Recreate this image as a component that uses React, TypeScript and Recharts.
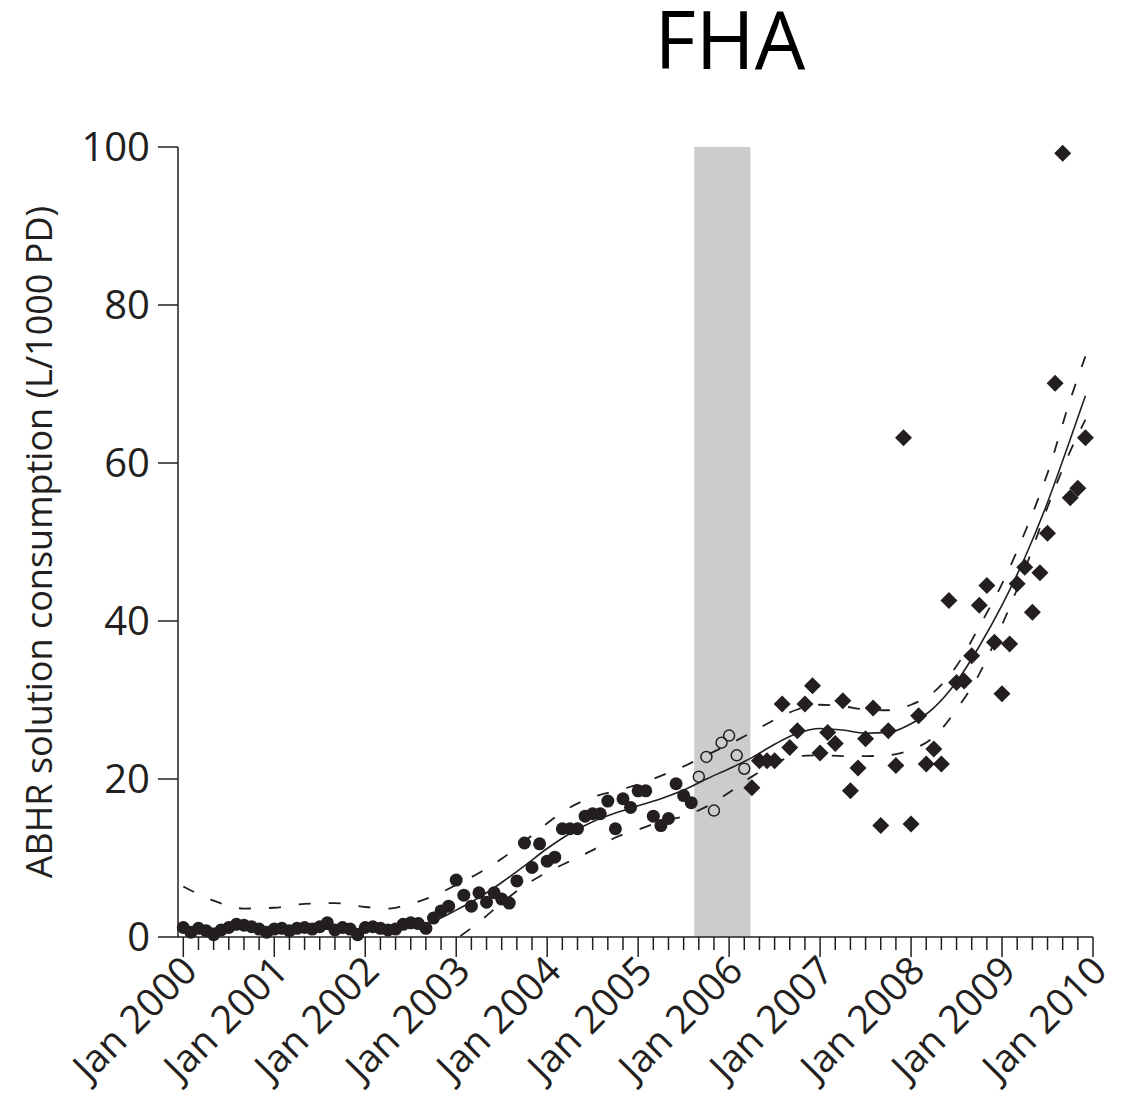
import React from 'react';
import { ComposedChart, Scatter, Line, XAxis, YAxis, ReferenceArea, Label } from 'recharts';

const FONT = '"Open Sans", sans-serif';
const INK = '#231f20';
const BAND = '#cbcccd';

// Monthly ABHR consumption (L/1000 PD); months counted from Jan 2000
const preStart = 0;
const preValues = [
  1.2, 0.6, 1.1, 0.8, 0.3, 0.9, 1.2, 1.6, 1.5, 1.3, 1.0, 0.6,
  1.0, 1.1, 0.8, 1.1, 1.2, 1.0, 1.3, 1.8, 0.9, 1.2, 1.0, 0.3,
  1.2, 1.3, 1.1, 0.9, 1.0, 1.6, 1.8, 1.7, 1.1, 2.4, 3.3, 3.9,
  7.2, 5.3, 3.9, 5.6, 4.4, 5.6, 4.8, 4.3, 7.1, 11.9, 8.8, 11.8,
  9.6, 10.1, 13.7, 13.7, 13.7, 15.3, 15.6, 15.6, 17.2, 13.7, 17.5, 16.4,
  18.5, 18.5, 15.3, 14.1, 15.0, 19.4, 17.9, 17.0,
];

// months inside the shaded period
const campaignStart = 68;
const campaignValues = [20.3, 22.8, 16.0, 24.6, 25.5, 23.0, 21.3];

const postStart = 75;
const postValues = [
  18.9, 22.3, 22.3, 22.3, 29.5, 24.0, 26.1, 29.5, 31.8, 23.3, 25.9, 24.5,
  29.9, 18.5, 21.4, 25.1, 29.0, 14.1, 26.1, 21.7, 63.2, 14.3, 28.0, 21.9,
  23.8, 21.9, 42.6, 32.2, 32.4, 35.6, 42.0, 44.5, 37.3, 30.8, 37.1, 44.7,
  46.8, 41.1, 46.1, 51.1, 70.1, 99.2, 55.6, 56.8, 63.2,
];

// fitted trend and its confidence limits
const fitMonths = [0, 6, 12, 18, 24, 30, 33, 36, 39, 42, 45, 48, 51, 54, 57, 60, 63, 66, 69, 72, 75, 78, 81, 84, 87, 90, 93, 96, 99, 102, 105, 108, 111, 114, 117, 119];
const fitValues = [1.1, 1.1, 1.0, 1.0, 1.0, 1.3, 2.0, 3.4, 5.0, 6.9, 9.0, 11.2, 13.1, 14.6, 15.7, 16.6, 17.5, 18.6, 20.0, 21.3, 22.7, 24.4, 25.8, 26.4, 26.2, 25.8, 25.9, 27.0, 29.0, 32.3, 36.8, 42.0, 48.0, 55.0, 63.0, 68.5];

const upperMonths = [0, 4, 8, 12, 16, 20, 24, 27, 30, 33, 36, 39, 42, 45, 48, 51, 54, 57, 60, 63, 66, 69, 72, 75, 78, 81, 84, 87, 90, 93, 96, 99, 102, 105, 108, 111, 114, 117, 119];
const upperValues = [6.4, 4.6, 3.6, 3.7, 4.2, 4.3, 3.8, 3.6, 4.2, 5.2, 6.6, 8.1, 9.9, 12.1, 14.4, 16.4, 17.7, 18.5, 19.3, 20.4, 21.6, 23.0, 24.4, 25.9, 27.5, 28.8, 29.4, 29.2, 28.8, 28.7, 29.4, 31.0, 34.3, 39.3, 44.7, 51.2, 58.7, 68.0, 73.5];

const lowerMonths = [33, 36, 39, 42, 45, 48, 51, 54, 57, 60, 63, 66, 69, 72, 75, 78, 81, 84, 87, 90, 93, 96, 99, 102, 105, 108, 111, 114, 117, 119];
const lowerValues = [-1.5, -0.2, 1.9, 4.3, 6.5, 8.2, 9.6, 11.0, 12.6, 13.6, 14.6, 15.3, 16.5, 18.3, 20.3, 22.0, 22.9, 23.0, 22.9, 22.9, 23.0, 23.7, 25.3, 28.8, 33.3, 39.5, 46.5, 54.4, 61.5, 65.5];

const bandFrom = 67.4;
const bandTo = 74.8;

const yearLabels = ['Jan 2000', 'Jan 2001', 'Jan 2002', 'Jan 2003', 'Jan 2004', 'Jan 2005', 'Jan 2006', 'Jan 2007', 'Jan 2008', 'Jan 2009', 'Jan 2010'];
const monthTicks = Array.from({ length: 61 }, (_, i) => i * 2);
const yTicks = [0, 20, 40, 60, 80, 100];

const toPoints = (start: number, values: number[]) =>
  values.map((v, i) => ({ month: start + i, value: v }));
const toCurve = (months: number[], values: number[]) =>
  months.map((m, i) => ({ month: m, value: values[i] }));

const prePoints = toPoints(preStart, preValues);
const campaignPoints = toPoints(campaignStart, campaignValues);
const postPoints = toPoints(postStart, postValues);
const fitCurve = toCurve(fitMonths, fitValues);
const upperCurve = toCurve(upperMonths, upperValues);
const lowerCurve = toCurve(lowerMonths, lowerValues);

const FilledDot = (props: any) => <circle cx={props.cx} cy={props.cy} r={6.5} fill={INK} />;
const OpenDot = (props: any) => (
  <circle cx={props.cx} cy={props.cy} r={5.5} fill="none" stroke={INK} strokeWidth={1.5} />
);
const Diamond = (props: any) => {
  const { cx, cy } = props;
  const s = 8.5;
  return <path d={`M${cx},${cy - s}L${cx + s},${cy}L${cx},${cy + s}L${cx - s},${cy}Z`} fill={INK} />;
};

const MonthTick = (props: any) => {
  const { x, y, payload } = props;
  const m = payload.value;
  const major = m % 12 === 0;
  return (
    <g>
      <line x1={x} x2={x} y1={y} y2={y + (major ? 20 : 13)} stroke={INK} strokeWidth={1.5} />
      {major && (
        <text
          transform={`translate(${x + 16},${y + 36}) rotate(-45)`}
          textAnchor="end"
          fill={INK}
          fontSize={39}
          fontFamily={FONT}
        >
          {yearLabels[m / 12]}
        </text>
      )}
    </g>
  );
};

const YTitle = () => (
  <text transform="translate(44,534) rotate(-90)" textAnchor="middle" fill={INK} fontSize={36} fontFamily={FONT}>
    ABHR solution consumption (L/1000 PD)
  </text>
);

export default function App() {
  return (
    <div style={{ position: 'relative', width: 1115, height: 1082 }}>
      <div
        style={{
          position: 'absolute',
          left: 522,
          top: 0,
          width: 400,
          textAlign: 'center',
          fontFamily: FONT,
          fontSize: 80,
          lineHeight: '60px',
          color: '#000',
        }}
      >
        FHA
      </div>
      <ComposedChart
        width={1115}
        height={1082}
        margin={{ top: 139, right: 30, bottom: 0, left: 0 }}
        style={{ position: 'absolute', left: 0, top: 0 }}
      >
        <XAxis
          dataKey="month"
          type="number"
          domain={[-0.7, 120]}
          ticks={monthTicks}
          interval={0}
          tick={<MonthTick />}
          tickLine={false}
          tickSize={0}
          tickMargin={0}
          height={153}
          axisLine={{ stroke: INK, strokeWidth: 1.5 }}
        />
        <YAxis
          dataKey="value"
          type="number"
          domain={[0, 100]}
          ticks={yTicks}
          width={170}
          tickSize={20}
          tickMargin={8}
          tick={{ fill: INK, fontSize: 40, fontFamily: FONT }}
          tickLine={{ stroke: INK, strokeWidth: 1.5 }}
          axisLine={{ stroke: INK, strokeWidth: 1.5 }}
        >
          <Label content={<YTitle />} />
        </YAxis>
        <YAxis yAxisId="curve" dataKey="value" type="number" domain={[0, 100]} allowDataOverflow hide />

        <ReferenceArea x1={bandFrom} x2={bandTo} y1={0} y2={100} fill={BAND} fillOpacity={1} stroke="none" />

        <Scatter data={prePoints} dataKey="value" shape={<FilledDot />} isAnimationActive={false} />
        <Scatter data={campaignPoints} dataKey="value" shape={<OpenDot />} isAnimationActive={false} />
        <Scatter data={postPoints} dataKey="value" shape={<Diamond />} isAnimationActive={false} />

        <Line yAxisId="curve" data={fitCurve} dataKey="value" type="monotone" dot={false} stroke={INK} strokeWidth={1.6} isAnimationActive={false} />
        <Line yAxisId="curve" data={upperCurve} dataKey="value" type="monotone" dot={false} stroke={INK} strokeWidth={1.8} strokeDasharray="12 18" isAnimationActive={false} />
        <Line yAxisId="curve" data={lowerCurve} dataKey="value" type="monotone" dot={false} stroke={INK} strokeWidth={1.8} strokeDasharray="12 18" isAnimationActive={false} />
      </ComposedChart>
    </div>
  );
}
